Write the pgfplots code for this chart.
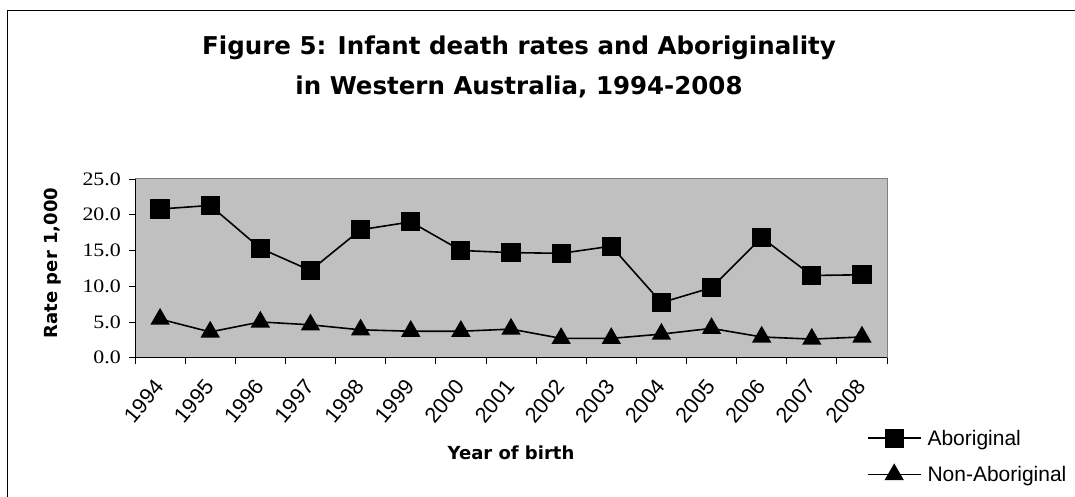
\documentclass[border=0pt]{standalone}
\usepackage{graphicx}
\usepackage{pgfplots}
\pgfplotsset{compat=1.18}
\usepackage{pgfplotstable}
\usepackage{fontspec}
\setmainfont{Liberation Sans}
\newfontfamily\djv{DejaVu Sans}
\newfontfamily\tms{Liberation Serif}
\definecolor{plotbg}{HTML}{C0C0C0}
\definecolor{bordergray}{HTML}{808080}
\newcommand\yt[1]{\scalebox{1.15}[1]{#1}\hspace*{8bp}}

\pgfplotstableread{
x ab nonab
0 20.8 5.4
1 21.3 3.6
2 15.3 5.0
3 12.2 4.6
4 17.9 3.9
5 19.0 3.7
6 15.0 3.7
7 14.7 4.0
8 14.6 2.7
9 15.6 2.7
10 7.7 3.3
11 9.8 4.1
12 16.8 2.9
13 11.5 2.6
14 11.6 2.9
}\datatable

\begin{document}
\begin{tikzpicture}[x=1bp,y=1bp]
\useasboundingbox (0,0) rectangle (1075,497);
\draw[line width=1bp] (7,-2) -- (7,486) -- (1077,486);
\node[font=\djv\bfseries\fontsize{24.5bp}{29bp}\selectfont, anchor=base] at (519,442) {Figure 5: Infant death rates and Aboriginality};
\node[font=\djv\bfseries\fontsize{24.5bp}{29bp}\selectfont, anchor=base] at (519,402) {in Western Australia, 1994-2008};
\begin{axis}[
  at={(135bp,139.3bp)}, anchor=south west,
  scale only axis, width=752bp, height=178.7bp,
  xmin=-0.5, xmax=14.5, ymin=0, ymax=25,
  axis background/.style={fill=plotbg},
  axis line style={bordergray, line width=1bp},
  tick align=outside, tickpos=left,
  major tick length=6bp,
  tick style={black, line width=0.8bp},
  xtick={-0.5,0.5,...,14.5}, xticklabels={},
  xticklabel style={yshift=-20bp, xshift=-7bp, anchor=north east, inner sep=0pt, rotate=50,
      font=\fontsize{21.5bp}{25bp}\selectfont},
  extra x ticks={0,1,...,14},
  extra x tick labels={1994,1995,1996,1997,1998,1999,2000,2001,2002,2003,2004,2005,2006,2007,2008},
  extra x tick style={major tick length=0pt},
  ytick={0,5,...,25},
  yticklabels={\yt{0.0},\yt{5.0},\yt{10.0},\yt{15.0},\yt{20.0},\yt{25.0}},
  yticklabel style={anchor=east, inner sep=0pt, font=\tms\fontsize{19bp}{22bp}\selectfont},
  ylabel={Rate per 1,000},
  ylabel style={at={(axis description cs:-0.11,0.53)}, anchor=center,
    font=\djv\bfseries\fontsize{18bp}{22bp}\selectfont},
  xlabel={Year of birth},
  xlabel style={at={(axis description cs:0.5,-0.572)}, anchor=base,
    font=\djv\bfseries\fontsize{18bp}{22bp}\selectfont},
  legend style={at={(axis description cs:0.973,-0.40)}, anchor=north west,
    draw=none, fill=none, inner sep=0pt,
    font=\fontsize{21bp}{25bp}\selectfont,
    row sep=18bp, column sep=6bp, nodes={inner sep=0pt}},
  legend cell align=left,
  legend image code/.code={\draw[mark repeat=2, mark phase=2] plot coordinates {(0bp,0bp) (26.5bp,0bp) (53bp,0bp)};},
  clip=false,
]
\draw[black, line width=1bp] (rel axis cs:0,1) -- (rel axis cs:0,0) -- (rel axis cs:1,0);
\addplot[black, line width=1.6bp, mark=square*, mark size=8.8bp, mark options={solid}] table[x=x, y=ab] {\datatable};
\addlegendentry{Aboriginal}
\addplot[black, line width=1.6bp, mark=triangle*, mark size=9.6bp, mark options={solid}] table[x=x, y=nonab] {\datatable};
\addlegendentry{Non-Aboriginal}
\end{axis}
\end{tikzpicture}
\end{document}
